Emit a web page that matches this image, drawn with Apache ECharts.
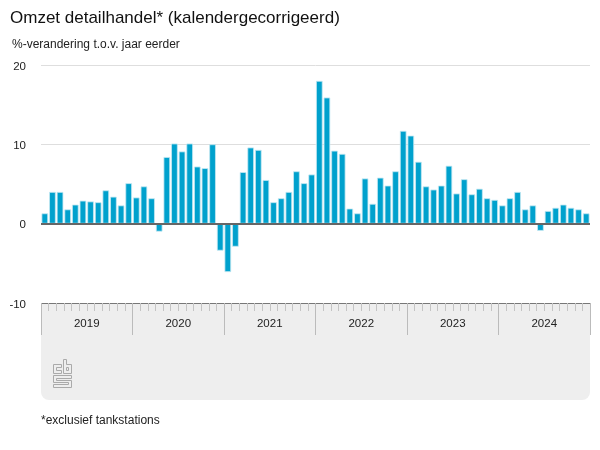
<!DOCTYPE html>
<html>
<head>
<meta charset="utf-8">
<style>html,body{margin:0;padding:0;background:#fff}#chart{width:600px;height:450px}</style>
<script src="https://cdn.jsdelivr.net/npm/echarts@6/dist/echarts.min.js"></script>
</head>
<body>
<div id="chart"></div>
<script>
const years = ['2019', '2020', '2021', '2022', '2023', '2024'];
const monthsPerYear = 12;
const values = [
  1.3, 4.0, 4.0, 1.8, 2.4, 2.9, 2.8, 2.7, 4.2, 3.4, 2.3, 5.1,
  3.3, 4.7, 3.2, -1.0, 8.4, 10.1, 9.1, 10.1, 7.2, 7.0, 10.0, -3.4,
  -6.1, -2.9, 6.5, 9.6, 9.3, 5.5, 2.7, 3.2, 4.0, 6.6, 5.1, 6.2,
  18.0, 15.9, 9.2, 8.8, 1.9, 1.3, 5.7, 2.5, 5.8, 4.8, 6.6, 11.7,
  11.1, 7.8, 4.7, 4.3, 4.8, 7.3, 3.8, 5.6, 3.7, 4.4, 3.2, 3.0,
  2.3, 3.2, 4.0, 1.8, 2.3, -0.9, 1.6, 2.0, 2.4, 2.0, 1.8, 1.3
];
const months = values.map((v, i) => years[Math.floor(i / monthsPerYear)] + '-' + (i % monthsPerYear + 1));
const font = '"Liberation Sans", Arial, sans-serif';

const chart = echarts.init(document.getElementById('chart'), null, {renderer: 'canvas'});

// grijs vlak onder de grafiek + cbs logo
const logoLine = {stroke: '#aaaaaa', lineWidth: 1, fill: null};
const logoPaths = [
  [[53.5, 364.5], [61.5, 364.5], [61.5, 367.5], [56.5, 367.5], [56.5, 370.5], [61.5, 370.5], [61.5, 373.5], [53.5, 373.5], [53.5, 364.5]],
  [[63.5, 359.5], [66.5, 359.5], [66.5, 364.5], [71.5, 364.5], [71.5, 373.5], [63.5, 373.5], [63.5, 359.5]],
  [[66.5, 367.5], [68.5, 367.5], [68.5, 370.5], [66.5, 370.5], [66.5, 367.5]],
  [[53.5, 375.5], [71.5, 375.5], [71.5, 378.5], [56.5, 378.5], [56.5, 380.5], [71.5, 380.5], [71.5, 387.5], [53.5, 387.5],
    [53.5, 384.5], [68.5, 384.5], [68.5, 382.5], [53.5, 382.5], [53.5, 375.5]]
];

chart.setOption({
  animation: false,
  textStyle: {fontFamily: font},
  title: [
    {text: 'Omzet detailhandel* (kalendergecorrigeerd)', left: 10, top: 10, padding: 0,
      textStyle: {fontSize: 17, fontWeight: 'normal', color: '#111', fontFamily: font}},
    {text: '%-verandering t.o.v. jaar eerder', left: 12, top: 39, padding: 0,
      textStyle: {fontSize: 12, fontWeight: 'normal', color: '#222', fontFamily: font}},
    {text: '*exclusief tankstations', left: 41, top: 415, padding: 0,
      textStyle: {fontSize: 12, fontWeight: 'normal', color: '#222', fontFamily: font}}
  ],
  graphic: [
    {type: 'rect', z: -1, shape: {x: 41, y: 303, width: 549, height: 97, r: [0, 0, 8, 8]},
      style: {fill: '#eeeeee'}}
  ].concat(logoPaths.map(p => ({type: 'polyline', z: 1, shape: {points: p}, style: logoLine}))),
  grid: {left: 41, right: 10, top: 65, height: 238},
  xAxis: [
    {type: 'category', data: months, z: 5,
      axisLine: {onZero: true, lineStyle: {color: '#666', width: 2, cap: 'butt'}},
      axisTick: {show: false}, axisLabel: {show: false}},
    {type: 'category', data: months, position: 'bottom',
      axisLine: {onZero: false, lineStyle: {color: '#777', width: 1, cap: 'butt'}},
      axisTick: {show: true, interval: 0, length: 8, lineStyle: {color: '#c4c4c4'}}, axisLabel: {show: false}},
    {type: 'category', data: years, position: 'bottom', axisLine: {onZero: false, show: false},
      axisTick: {show: true, interval: 0, length: 32, lineStyle: {color: '#bbb'}},
      axisLabel: {show: true, interval: 0, margin: 15, fontSize: 11.5, color: '#222', fontFamily: font}}
  ],
  yAxis: {
    type: 'value', min: -10, max: 20, interval: 10,
    axisLine: {show: false}, axisTick: {show: false},
    axisLabel: {fontSize: 11.5, color: '#222', margin: 15, verticalAlign: 'top', lineHeight: 3, fontFamily: font},
    splitLine: {lineStyle: {color: '#dedede', width: 1}}
  },
  series: [{
    type: 'bar', data: values, barWidth: 6.6, xAxisIndex: 0, z: 2,
    itemStyle: {color: '#00a1cd', borderColor: '#c4e8f3', borderWidth: 0.8}
  }]
});
</script>
</body>
</html>
